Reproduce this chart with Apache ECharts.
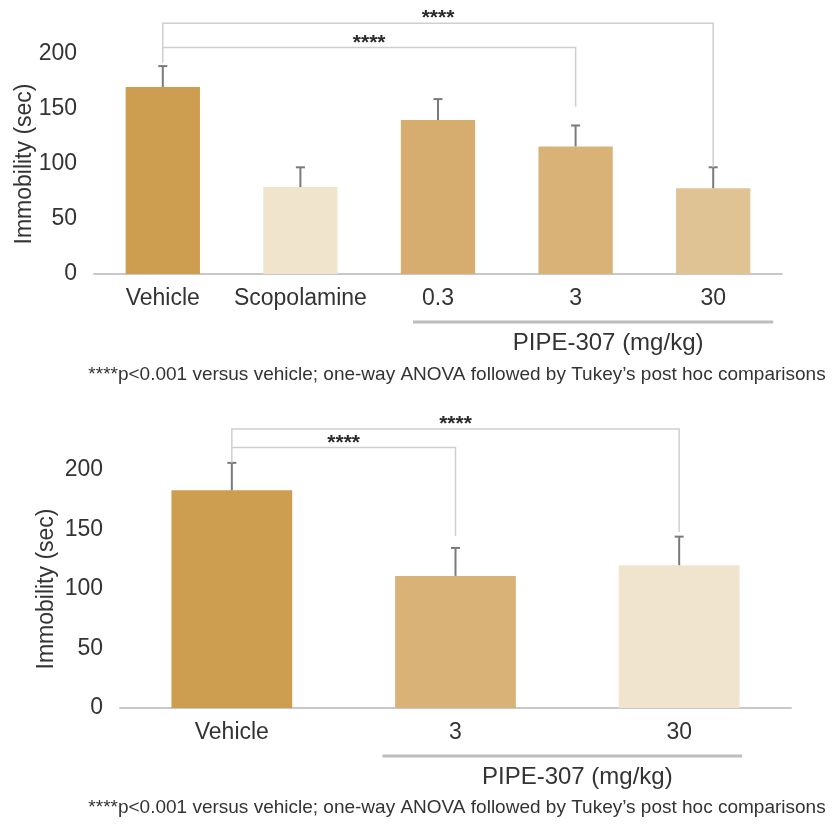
<!DOCTYPE html>
<html>
<head>
<meta charset="utf-8">
<script src="https://cdn.jsdelivr.net/npm/echarts@6/dist/echarts.min.js"></script>
<style>
  html, body { margin: 0; padding: 0; background: #fff; }
  #chart { width: 836px; height: 825px; }
</style>
</head>
<body>
<div id="chart"></div>
<script>
// ---- Panel 1: forced swim, vehicle / scopolamine / PIPE-307 doses ----
const topCategories = ['Vehicle', 'Scopolamine', '0.3', '3', '30'];
const topMeans = [170, 79, 140, 116, 78];
const topErrors = [19, 18, 19, 19, 19];
// significance brackets: [fromIndex, toIndex, barHeight, fromEnd, toEnd] (sec)
const topBrackets = [
  [0, 4, 228, 206, 97],
  [0, 3, 206, 192, 152]
];

// ---- Panel 2: vehicle / PIPE-307 doses ----
const bottomCategories = ['Vehicle', '3', '30'];
const bottomMeans = [183, 111, 120];
const bottomErrors = [23, 23.5, 24];
const bottomBrackets = [
  [0, 2, 234.5, 219, 148],
  [0, 1, 219, 206, 144.5]
];

const yTicks = { min: 0, max: 200, interval: 50 };
const groupLabel = 'PIPE-307 (mg/kg)';
const footnote = '****p<0.001 versus vehicle; one-way ANOVA followed by Tukey\u2019s post hoc comparisons';
const starText = '****';

// styling
const topPalette = ['#CD9D50', '#F0E4CD', '#D6AD6E', '#D9B278', '#DFC394'];
const bottomPalette = ['#CD9D50', '#D9B278', '#F0E4CE'];
const FONT = "'Liberation Sans', Arial, Helvetica, sans-serif";
const TEXT = '#333';

const chart = echarts.init(document.getElementById('chart'), null, { renderer: 'canvas' });

function xAxisCfg(grid, cats) {
  return {
    type: 'category', gridIndex: grid, data: cats,
    axisLine: { lineStyle: { color: '#c8c8c8', width: 2 } },
    axisTick: { show: false },
    axisLabel: { interval: 0, fontSize: 23, color: TEXT, fontFamily: FONT, margin: 13 }
  };
}
function yAxisCfg(grid, gap) {
  return {
    type: 'value', gridIndex: grid,
    min: yTicks.min, max: yTicks.max, interval: yTicks.interval,
    axisLine: { show: false }, axisTick: { show: false }, splitLine: { show: false },
    axisLabel: { fontSize: 23, color: TEXT, fontFamily: FONT, margin: 17 },
    name: 'Immobility (sec)', nameLocation: 'middle', nameRotate: 90, nameGap: gap,
    nameMoveOverlap: false,
    nameTextStyle: { fontSize: 23, color: TEXT, fontFamily: FONT }
  };
}
function barSeries(axis, means, palette) {
  return {
    type: 'bar', xAxisIndex: axis, yAxisIndex: axis, barWidth: '54%',
    data: means.map((v, i) => ({ value: v, itemStyle: { color: palette[i] } })),
    silent: true
  };
}
function errorSeries(axis, means, errs) {
  return {
    type: 'custom', xAxisIndex: axis, yAxisIndex: axis, silent: true, z: 3,
    data: means.map((v, i) => [i, v, errs[i]]),
    renderItem: function (params, api) {
      const i = api.value(0), v = api.value(1), e = api.value(2);
      const p0 = api.coord([i, v]);
      const p1 = api.coord([i, v + e]);
      const st = { stroke: '#7a7a7a', lineWidth: 2 };
      return {
        type: 'group', children: [
          { type: 'line', shape: { x1: p0[0], y1: p0[1], x2: p1[0], y2: p1[1] }, style: st },
          { type: 'line', shape: { x1: p1[0] - 4.5, y1: p1[1], x2: p1[0] + 4.5, y2: p1[1] }, style: st }
        ]
      };
    }
  };
}
function bracketSeries(axis, brackets) {
  return {
    type: 'custom', xAxisIndex: axis, yAxisIndex: axis, silent: true, clip: false, z: 4,
    data: brackets,
    renderItem: function (params, api) {
      const a = api.value(0), b = api.value(1), h = api.value(2);
      const ea = api.value(3), eb = api.value(4);
      const pA = api.coord([a, ea]);
      const pAh = api.coord([a, h]);
      const pBh = api.coord([b, h]);
      const pB = api.coord([b, eb]);
      return {
        type: 'group', children: [
          { type: 'polyline', shape: { points: [pA, pAh, pBh, pB] },
            style: { stroke: '#cfcfcf', lineWidth: 1.5, fill: null } },
          { type: 'text', style: {
              text: starText, x: (pAh[0] + pBh[0]) / 2, y: pAh[1] + 6,
              textAlign: 'center', textVerticalAlign: 'bottom',
              font: 'bold 21px ' + FONT, fill: '#2a2a2a' } }
        ]
      };
    }
  };
}

chart.setOption({
  animation: false,
  backgroundColor: '#fff',
  grid: [
    { left: 94, right: 54, top: 54, height: 220, outerBoundsMode: 'none' },
    { left: 120, right: 45, top: 470, height: 238, outerBoundsMode: 'none' }
  ],
  xAxis: [xAxisCfg(0, topCategories), xAxisCfg(1, bottomCategories)],
  yAxis: [yAxisCfg(0, 58), yAxisCfg(1, 62)],
  series: [
    barSeries(0, topMeans, topPalette),
    errorSeries(0, topMeans, topErrors),
    bracketSeries(0, topBrackets),
    barSeries(1, bottomMeans, bottomPalette),
    errorSeries(1, bottomMeans, bottomErrors),
    bracketSeries(1, bottomBrackets)
  ]
});

// Group underline + label beneath the dose categories, and the footnotes
function groupGraphics(grid, firstIdx, lastIdx, padL, padR, lineY, labelY, noteY) {
  const a = chart.convertToPixel({ gridIndex: grid }, [firstIdx, 0]);
  const b = chart.convertToPixel({ gridIndex: grid }, [lastIdx, 0]);
  const x1 = a[0] - padL, x2 = b[0] + padR;
  return [
    { type: 'line', shape: { x1: x1, y1: lineY, x2: x2, y2: lineY },
      style: { stroke: '#bdbdbd', lineWidth: 3 }, silent: true },
    { type: 'text', x: (x1 + x2) / 2 + 15, y: labelY,
      style: { text: groupLabel, font: '24px ' + FONT, fill: TEXT,
               textAlign: 'center', textVerticalAlign: 'middle' } },
    { type: 'text', x: 457, y: noteY,
      style: { text: footnote, font: '19px ' + FONT, fill: TEXT,
               textAlign: 'center', textVerticalAlign: 'middle' } }
  ];
}

chart.setOption({
  graphic: [].concat(
    groupGraphics(0, 2, 4, 25, 60, 322, 343, 375),
    groupGraphics(1, 1, 2, 73, 63, 756, 777, 808)
  )
});
</script>
</body>
</html>
